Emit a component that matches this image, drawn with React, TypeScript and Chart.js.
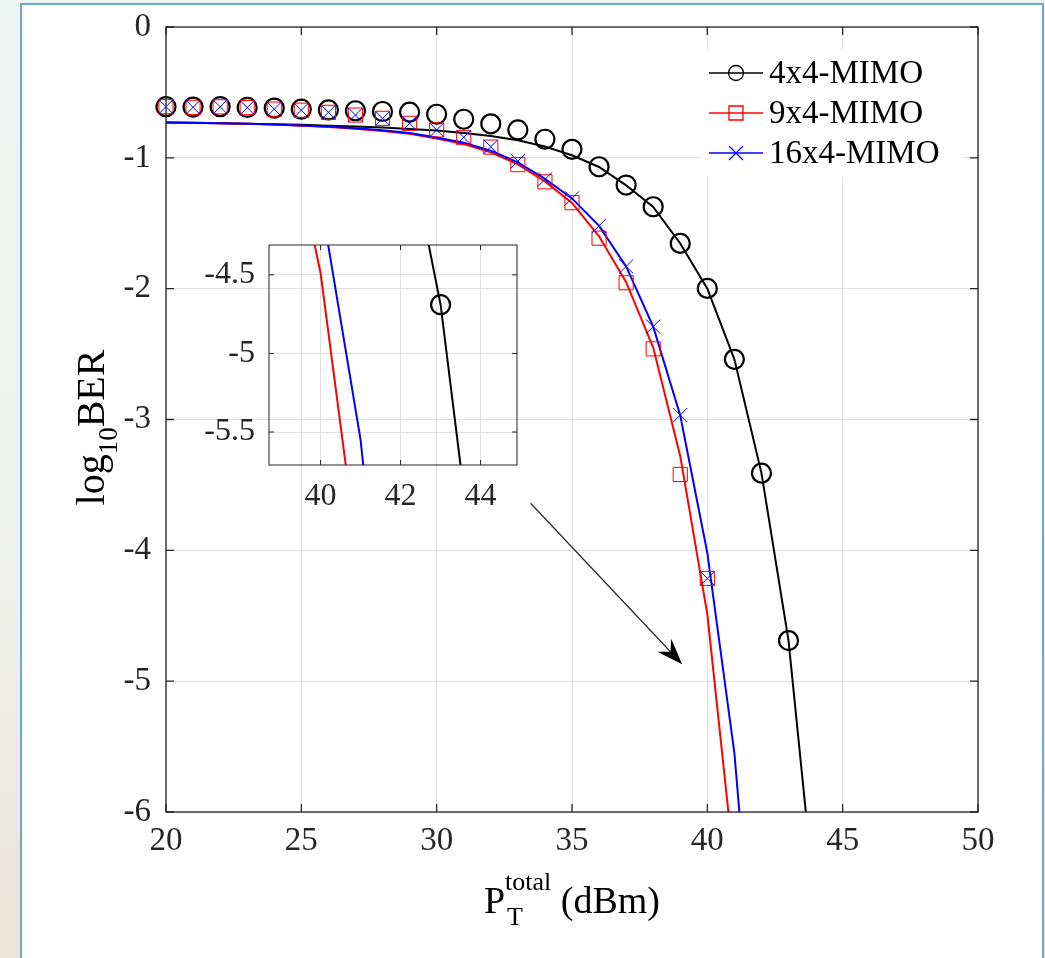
import React, { useEffect, useRef } from 'react';
import { Chart, registerables } from 'chart.js';

Chart.register(...registerables);

// ---------------- data ----------------
// analytical curves (solid lines)
const P_LINE_4X4 = [20, 21, 22, 23, 24, 25, 26, 27, 28, 29, 30, 31, 32, 33, 34, 35, 36, 37, 38, 39, 40, 41, 42, 43, 44];
const LOGBER_LINE_4X4 = [-0.730, -0.733, -0.736, -0.739, -0.743, -0.748, -0.754, -0.761, -0.769, -0.779, -0.792, -0.810, -0.833, -0.865, -0.913, -0.980, -1.070, -1.210, -1.375, -1.655, -2.000, -2.540, -3.410, -4.690, -6.740];

const P_LINE_9X4 = [20, 21, 22, 23, 24, 25, 26, 27, 28, 29, 30, 31, 32, 33, 34, 35, 36, 37, 38, 39, 40, 41];
const LOGBER_LINE_9X4 = [-0.730, -0.732, -0.735, -0.740, -0.746, -0.754, -0.764, -0.777, -0.794, -0.816, -0.852, -0.895, -0.958, -1.050, -1.180, -1.345, -1.600, -1.950, -2.450, -3.280, -4.490, -6.430];

const P_LINE_16X4 = [20, 21, 22, 23, 24, 25, 26, 27, 28, 29, 30, 31, 32, 33, 34, 35, 36, 37, 38, 39, 40, 41, 42];
const LOGBER_LINE_16X4 = [-0.730, -0.732, -0.735, -0.739, -0.745, -0.752, -0.761, -0.773, -0.789, -0.810, -0.845, -0.885, -0.945, -1.035, -1.160, -1.310, -1.520, -1.830, -2.290, -2.970, -4.020, -5.550, -8.000];

// simulated points (markers)
const P_SIM_4X4 = [20, 21, 22, 23, 24, 25, 26, 27, 28, 29, 30, 31, 32, 33, 34, 35, 36, 37, 38, 39, 40, 41, 42, 43];
const LOGBER_SIM_4X4 = [-0.609, -0.612, -0.609, -0.615, -0.620, -0.628, -0.634, -0.640, -0.646, -0.651, -0.667, -0.705, -0.740, -0.787, -0.858, -0.935, -1.068, -1.208, -1.374, -1.654, -1.998, -2.540, -3.410, -4.690];

const P_SIM_9X4 = [20, 21, 22, 23, 24, 25, 26, 27, 28, 29, 30, 31, 32, 33, 34, 35, 36, 37, 38, 39, 40];
const LOGBER_SIM_9X4 = [-0.609, -0.614, -0.610, -0.616, -0.628, -0.636, -0.652, -0.673, -0.698, -0.736, -0.787, -0.846, -0.918, -1.052, -1.183, -1.343, -1.614, -1.955, -2.460, -3.420, -4.215];

const P_SIM_16X4 = [20, 21, 22, 23, 24, 25, 26, 27, 28, 29, 30, 31, 32, 33, 34, 35, 36, 37, 38, 39, 40];
const LOGBER_SIM_16X4 = [-0.609, -0.614, -0.610, -0.616, -0.628, -0.636, -0.652, -0.673, -0.698, -0.736, -0.787, -0.843, -0.915, -1.025, -1.165, -1.310, -1.520, -1.830, -2.290, -2.966, -4.215];

const SERIES_NAMES = ['4x4-MIMO', '9x4-MIMO', '16x4-MIMO'];

const X_TICKS = [20, 25, 30, 35, 40, 45, 50];
const Y_TICKS = [-6, -5, -4, -3, -2, -1, 0];
const INSET_X_TICKS = [40, 42, 44];
const INSET_Y_TICKS = [-5.5, -5, -4.5];
const INSET_X_RANGE = [38.71, 44.91];
const INSET_Y_RANGE = [-5.71, -4.31];

const ARROW_FROM = [33.47, -3.64];
const ARROW_TO = [39.07, -4.87];

// ---------------- styles ----------------
const FONT = '"Liberation Serif", "Times New Roman", Times, serif';
const AXIS_COLOR = '#262626';
const GRID_COLOR = '#e0e0e0';
const C_BLACK = '#000000';
const C_RED = '#ff0000';
const C_BLUE = '#0000ff';
const MARKERS = ['circle', 'square', 'cross'];
const COLORS = [C_BLACK, C_RED, C_BLUE];

const pts = (xs: number[], ys: number[]) => xs.map((x, i) => ({ x, y: ys[i] }));

function buildDatasets(isMain: boolean) {
  const line = (label: string, xs: number[], ys: number[], color: string, order: number) => ({
    label,
    data: pts(xs, ys),
    showLine: true,
    borderColor: color,
    backgroundColor: color,
    borderWidth: 2,
    pointRadius: 0,
    pointHoverRadius: 0,
    tension: 0,
    fill: false,
    order,
  });
  const marks = (label: string, xs: number[], ys: number[], color: string, style: string, r: number, bw: number, order: number) => {
    const ds: any = {
      label,
      data: pts(xs, ys),
      showLine: false,
      pointStyle: style,
      pointRadius: r,
      pointHoverRadius: r,
      pointBorderWidth: bw,
      pointHoverBorderWidth: bw,
      pointBorderColor: color,
      pointBackgroundColor: 'rgba(0,0,0,0)',
      borderColor: color,
      backgroundColor: 'rgba(0,0,0,0)',
      order,
    };
    if (isMain) ds.clip = false;
    return ds;
  };
  return [
    marks(SERIES_NAMES[2] + ' sim', P_SIM_16X4, LOGBER_SIM_16X4, C_BLUE, 'crossRot', 10, 1, 0),
    marks(SERIES_NAMES[1] + ' sim', P_SIM_9X4, LOGBER_SIM_9X4, C_RED, 'rect', 10, 1, 1),
    marks(SERIES_NAMES[0] + ' sim', P_SIM_4X4, LOGBER_SIM_4X4, C_BLACK, 'circle', 9.5, 2.2, 2),
    line(SERIES_NAMES[2], P_LINE_16X4, LOGBER_LINE_16X4, C_BLUE, 3),
    line(SERIES_NAMES[1], P_LINE_9X4, LOGBER_LINE_9X4, C_RED, 4),
    line(SERIES_NAMES[0], P_LINE_4X4, LOGBER_LINE_4X4, C_BLACK, 5),
  ];
}

const zeroPad = (s: any) => {
  s.paddingLeft = 0;
  s.paddingRight = 0;
  s.paddingTop = 0;
  s.paddingBottom = 0;
};

const boxPlugin = (tickLen: number, lw: number) => ({
  id: 'mlBox',
  afterDatasetsDraw(chart: any) {
    const { ctx, chartArea: a, scales } = chart;
    ctx.save();
    ctx.strokeStyle = AXIS_COLOR;
    ctx.lineWidth = lw;
    ctx.beginPath();
    scales.x.ticks.forEach((t: any) => {
      const px = scales.x.getPixelForValue(t.value);
      ctx.moveTo(px, a.bottom);
      ctx.lineTo(px, a.bottom - tickLen);
      ctx.moveTo(px, a.top);
      ctx.lineTo(px, a.top + tickLen);
    });
    scales.y.ticks.forEach((t: any) => {
      const py = scales.y.getPixelForValue(t.value);
      ctx.moveTo(a.left, py);
      ctx.lineTo(a.left + tickLen, py);
      ctx.moveTo(a.right, py);
      ctx.lineTo(a.right - tickLen, py);
    });
    ctx.stroke();
    ctx.strokeRect(a.left, a.top, a.right - a.left, a.bottom - a.top);
    ctx.restore();
  },
});

const arrowPlugin = {
  id: 'arrow',
  afterDatasetsDraw(chart: any) {
    const { ctx, scales } = chart;
    const x0 = scales.x.getPixelForValue(ARROW_FROM[0]);
    const y0 = scales.y.getPixelForValue(ARROW_FROM[1]);
    const x1 = scales.x.getPixelForValue(ARROW_TO[0]);
    const y1 = scales.y.getPixelForValue(ARROW_TO[1]);
    const ang = Math.atan2(y1 - y0, x1 - x0);
    const L = 26;
    const W = 9.5;
    const notch = 17;
    ctx.save();
    ctx.strokeStyle = AXIS_COLOR;
    ctx.lineWidth = 1.2;
    ctx.beginPath();
    ctx.moveTo(x0, y0);
    ctx.lineTo(x1 - notch * Math.cos(ang), y1 - notch * Math.sin(ang));
    ctx.stroke();
    ctx.translate(x1, y1);
    ctx.rotate(ang);
    ctx.beginPath();
    ctx.moveTo(0, 0);
    ctx.lineTo(-L, -W);
    ctx.lineTo(-notch, 0);
    ctx.lineTo(-L, W);
    ctx.closePath();
    ctx.fillStyle = '#000';
    ctx.fill();
    ctx.restore();
  },
};

function drawMarker(ctx: CanvasRenderingContext2D, kind: string, x: number, y: number, color: string) {
  ctx.save();
  ctx.strokeStyle = color;
  ctx.lineWidth = 1.3;
  ctx.beginPath();
  if (kind === 'circle') {
    ctx.arc(x, y, 7.5, 0, Math.PI * 2);
  } else if (kind === 'square') {
    ctx.rect(x - 7, y - 7, 14, 14);
  } else {
    ctx.moveTo(x - 7, y - 7);
    ctx.lineTo(x + 7, y + 7);
    ctx.moveTo(x + 7, y - 7);
    ctx.lineTo(x - 7, y + 7);
  }
  ctx.stroke();
  ctx.restore();
}

const legendPlugin = {
  id: 'mlLegend',
  afterDraw(chart: any) {
    const { ctx, chartArea: a } = chart;
    const right = a.right - 14;
    const top = a.top + 23;
    const w = 264;
    const h = 127;
    const left = right - w;
    ctx.save();
    ctx.fillStyle = '#ffffff';
    ctx.fillRect(left, top, w, h);
    SERIES_NAMES.forEach((name, i) => {
      const cy = top + 23 + i * 40;
      ctx.strokeStyle = COLORS[i];
      ctx.lineWidth = 1.6;
      ctx.beginPath();
      ctx.moveTo(left + 9, cy);
      ctx.lineTo(left + 63, cy);
      ctx.stroke();
      drawMarker(ctx, MARKERS[i], left + 36, cy, COLORS[i]);
      ctx.fillStyle = '#000';
      ctx.font = `33px ${FONT}`;
      ctx.textAlign = 'left';
      ctx.textBaseline = 'middle';
      ctx.fillText(name, left + 69, cy + 1);
    });
    ctx.restore();
  },
};

const titlePlugin = {
  id: 'mlTitles',
  afterDraw(chart: any) {
    const { ctx, chartArea: a } = chart;
    const big = `38px ${FONT}`;
    const small = `26px ${FONT}`;
    ctx.save();
    ctx.fillStyle = '#000';
    ctx.textAlign = 'left';
    ctx.textBaseline = 'alphabetic';

    // x-axis title: P_T^total (dBm)
    ctx.font = big;
    const wP = ctx.measureText('P').width;
    const wRest = ctx.measureText(' (dBm)').width;
    ctx.font = small;
    const wSup = ctx.measureText('total').width;
    const wSub = ctx.measureText('T').width;
    const total = wP + Math.max(wSup, wSub) + wRest;
    let x = (a.left + a.right) / 2 - total / 2;
    const base = a.bottom + 101;
    ctx.font = big;
    ctx.fillText('P', x, base);
    x += wP;
    ctx.font = small;
    ctx.fillText('total', x, base - 23);
    ctx.fillText('T', x + 2, base + 12);
    x += Math.max(wSup, wSub);
    ctx.font = big;
    ctx.fillText(' (dBm)', x, base);

    // y-axis title: log10 BER
    const ybig = `40px ${FONT}`;
    const ysmall = `27px ${FONT}`;
    ctx.translate(a.left - 62, (a.top + a.bottom) / 2 + 8);
    ctx.rotate(-Math.PI / 2);
    ctx.font = ybig;
    const wLog = ctx.measureText('log').width;
    const wBer = ctx.measureText('BER').width;
    ctx.font = ysmall;
    const w10 = ctx.measureText('10').width;
    let yx = -(wLog + w10 + wBer) / 2;
    ctx.font = ybig;
    ctx.fillText('log', yx, 0);
    yx += wLog;
    ctx.font = ysmall;
    ctx.fillText('10', yx, 13);
    yx += w10;
    ctx.font = ybig;
    ctx.fillText('BER', yx, 0);
    ctx.restore();
  },
};

function axis(min: number, max: number, ticks: number[], size: number, fontSize: number, pad: number, horizontal: boolean) {
  return {
    type: 'linear',
    min,
    max,
    afterBuildTicks: (s: any) => {
      s.ticks = ticks.map((v) => ({ value: v }));
    },
    afterFit: (s: any) => {
      if (horizontal) s.height = size;
      else s.width = size;
      zeroPad(s);
    },
    grid: { color: GRID_COLOR, lineWidth: 1, drawTicks: false },
    border: { display: false },
    ticks: {
      font: { family: FONT, size: fontSize },
      color: AXIS_COLOR,
      padding: pad,
      maxRotation: 0,
      minRotation: 0,
      autoSkip: false,
      callback: (v: any) => String(v),
    },
  };
}

export default function App() {
  const mainRef = useRef<HTMLCanvasElement | null>(null);
  const insetRef = useRef<HTMLCanvasElement | null>(null);

  useEffect(() => {
    if (!mainRef.current || !insetRef.current) return;
    const main = new Chart(mainRef.current, {
      type: 'scatter',
      data: { datasets: buildDatasets(true) as any },
      options: {
        responsive: false,
        maintainAspectRatio: false,
        animation: false,
        devicePixelRatio: 1,
        events: [],
        layout: { padding: { top: 27, right: 67, left: 0, bottom: 0 } },
        plugins: { legend: { display: false }, tooltip: { enabled: false } },
        scales: {
          x: axis(20, 50, X_TICKS, 146, 33, 10, true) as any,
          y: axis(-6, 0, Y_TICKS, 166, 33, 15, false) as any,
        },
      },
      plugins: [boxPlugin(8, 1.3), arrowPlugin, legendPlugin, titlePlugin] as any,
    });
    const inset = new Chart(insetRef.current, {
      type: 'scatter',
      data: { datasets: buildDatasets(false) as any },
      options: {
        responsive: false,
        maintainAspectRatio: false,
        animation: false,
        devicePixelRatio: 1,
        events: [],
        layout: { padding: { top: 20, right: 33, left: 0, bottom: 0 } },
        plugins: { legend: { display: false }, tooltip: { enabled: false } },
        scales: {
          x: axis(INSET_X_RANGE[0], INSET_X_RANGE[1], INSET_X_TICKS, 60, 32, 12, true) as any,
          y: axis(INSET_Y_RANGE[0], INSET_Y_RANGE[1], INSET_Y_TICKS, 89, 32, 14, false) as any,
        },
      },
      plugins: [boxPlugin(5, 1)] as any,
    });
    return () => {
      main.destroy();
      inset.destroy();
    };
  }, []);

  return (
    <div
      style={{
        position: 'fixed',
        left: 0,
        top: 0,
        width: 1045,
        height: 958,
        overflow: 'hidden',
        background: 'linear-gradient(180deg, #eef4f2 0%, #eef2ee 55%, #ebe4d8 100%)',
      }}
    >
      <div
        style={{
          position: 'absolute',
          left: 20,
          top: 3,
          width: 1024,
          height: 980,
          boxSizing: 'border-box',
          border: '2px solid #6ea6dc',
          background: '#ffffff',
        }}
      />
      <canvas
        ref={mainRef}
        width={1045}
        height={958}
        style={{ position: 'absolute', left: 0, top: 0, width: 1045, height: 958 }}
      />
      <canvas
        ref={insetRef}
        width={370}
        height={300}
        style={{ position: 'absolute', left: 180, top: 225, width: 370, height: 300 }}
      />
    </div>
  );
}
